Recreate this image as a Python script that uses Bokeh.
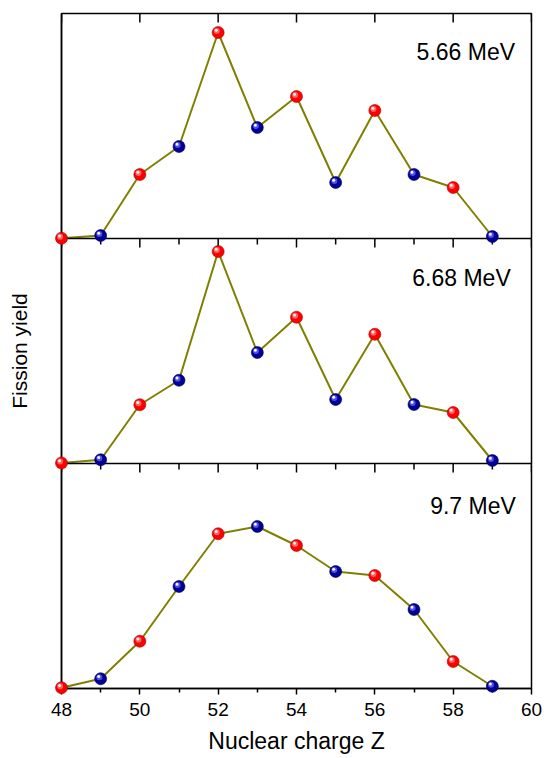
from bokeh.plotting import figure
from bokeh.models import Range1d, FixedTicker, Span, Label, ColumnDataSource
from bokeh.transform import dodge
from bokeh.embed import file_html
from bokeh.resources import INLINE

# ---- data (arbitrary yield units) ----
Z = [48, 49, 50, 51, 52, 53, 54, 55, 56, 57, 58, 59]
yield_566 = [0.01, 0.12, 2.56, 3.68, 8.24, 4.44, 5.68, 2.24, 5.12, 2.56, 2.04, 0.08]
yield_668 = [0.02, 0.15, 2.35, 3.33, 8.48, 4.44, 5.85, 2.56, 5.17, 2.36, 2.04, 0.12]
yield_97 = [0.03, 0.39, 1.89, 4.08, 6.19, 6.48, 5.72, 4.68, 4.52, 3.16, 1.08, 0.09]
energies = ["5.66 MeV", "6.68 MeV", "9.7 MeV"]
x_major_ticks = [48, 50, 52, 54, 56, 58, 60]
x_minor_ticks = [49, 51, 53, 55, 57, 59]

series = [yield_566, yield_668, yield_97]
YMAX = 9.0          # height of one panel in yield units
PX_PER_UNIT = 25.0  # frame_height / (3 * YMAX)

FONT = "Liberation Sans"
LINE = "#808000"
RED, RED_EDGE, RED_HI = "#ff0000", "#a80000", "#ff8080"
BLUE, BLUE_EDGE, BLUE_HI = "#000096", "#00004a", "#6a6aff"

p = figure(frame_width=470, frame_height=675,
           x_range=Range1d(48, 60), y_range=Range1d(0, 3 * YMAX),
           min_border_left=61, min_border_right=13, min_border_top=13, min_border_bottom=70,
           output_backend="svg", toolbar_location=None,
           background_fill_color="white", border_fill_color="white")
p.extra_y_ranges = {"p0": Range1d(-2 * YMAX, YMAX), "p1": Range1d(-YMAX, 2 * YMAX)}
range_names = ["p0", "p1", "default"]

p.xgrid.visible = False
p.ygrid.visible = False
p.outline_line_color = "black"
p.outline_line_width = 1.5

# bottom axis
xa = p.xaxis[0]
xa.ticker = FixedTicker(ticks=x_major_ticks, minor_ticks=x_minor_ticks)
xa.major_tick_in = 0
xa.major_tick_out = 6
xa.minor_tick_in = 0
xa.minor_tick_out = 4
xa.major_tick_line_width = 1.5
xa.minor_tick_line_width = 1.5
xa.axis_line_width = 1.5
xa.major_label_text_font = FONT
xa.major_label_text_font_size = "19px"
xa.major_label_text_color = "black"
xa.major_label_standoff = 8
xa.axis_label = "Nuclear charge Z"
xa.axis_label_text_font = FONT
xa.axis_label_text_font_size = "23px"
xa.axis_label_text_font_style = "normal"
xa.axis_label_text_color = "black"
xa.axis_label_standoff = 9

# left axis: only the title
ya = p.yaxis[0]
ya.ticker = FixedTicker(ticks=[])
ya.major_tick_out = 0
ya.major_tick_in = 0
ya.minor_tick_out = 0
ya.minor_tick_in = 0
ya.axis_line_width = 1.5
ya.axis_label = "Fission yield"
ya.axis_label_text_font = FONT
ya.axis_label_text_font_size = "21px"
ya.axis_label_text_font_style = "normal"
ya.axis_label_text_color = "black"
ya.axis_label_standoff = 31

# ticks pointing down from the top edge of every panel
for i, name in enumerate(range_names):
    if i > 0:
        p.add_layout(Span(location=YMAX, dimension="width", y_range_name=name,
                          line_color="black", line_width=1.5))
        p.segment(x0=x_minor_ticks, y0=YMAX, x1=x_minor_ticks, y1=YMAX - 6 / PX_PER_UNIT,
                  y_range_name=name, line_color="black", line_width=1.5)
    p.segment(x0=x_major_ticks, y0=YMAX, x1=x_major_ticks, y1=YMAX - 9 / PX_PER_UNIT,
              y_range_name=name, line_color="black", line_width=1.5)

for vals, name, energy, (lx, ly) in zip(series, range_names, energies,
                                         [(59.58, 7.48), (59.47, 7.42), (59.60, 7.30)]):
    yr = p.y_range if name == "default" else p.extra_y_ranges[name]
    src = ColumnDataSource(dict(
        x=Z, y=vals,
        fill=[RED if z % 2 == 0 else BLUE for z in Z],
        edge=[RED_EDGE if z % 2 == 0 else BLUE_EDGE for z in Z],
        hi=[RED_HI if z % 2 == 0 else BLUE_HI for z in Z],
    ))
    p.line("x", "y", source=src, y_range_name=name, line_color=LINE, line_width=2)
    p.scatter("x", "y", source=src, y_range_name=name, size=12,
              fill_color="fill", line_color="edge", line_width=0.6, level="overlay")
    p.scatter(dodge("x", -0.035, range=p.x_range), dodge("y", 0.06, range=yr),
              source=src, y_range_name=name, size=6, fill_color="hi", fill_alpha=0.75,
              line_color=None, level="overlay")
    p.scatter(dodge("x", -0.05, range=p.x_range), dodge("y", 0.09, range=yr),
              source=src, y_range_name=name, size=3, fill_color="white", fill_alpha=0.95,
              line_color=None, level="overlay")
    p.add_layout(Label(x=lx, y=ly, y_range_name=name, text=energy,
                       text_align="right", text_baseline="middle",
                       text_font=FONT, text_font_size="23px", text_color="black"))

open("out.html", "w").write(file_html(p, INLINE))
